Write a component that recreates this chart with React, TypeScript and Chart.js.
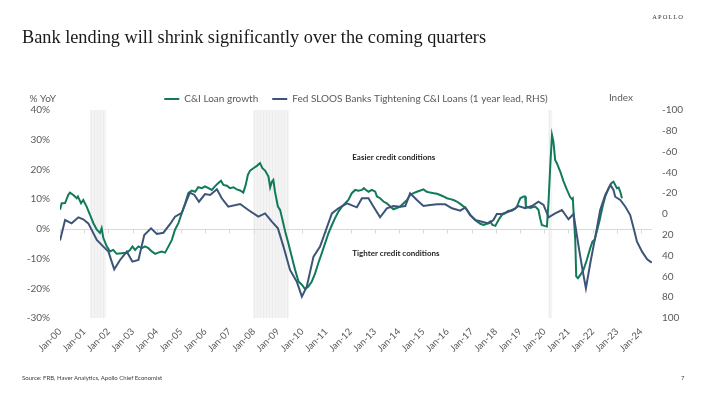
import React, { useEffect, useRef } from 'react';
import { Chart, registerables } from 'chart.js';

Chart.register(...registerables);

const titleText = 'Bank lending will shrink significantly over the coming quarters';
const brandText = 'APOLLO';
const sourceText = 'Source: FRB, Haver Analytics, Apollo Chief Economist';
const pageNumber = '7';

const seriesLabels = ['C&I Loan growth', 'Fed SLOOS Banks Tightening C&I Loans (1 year lead, RHS)'];
const seriesColors = ['#117a5b', '#3d5479'];

const leftAxisTitle = '% YoY';
const rightAxisTitle = 'Index';

const xTickYears = [2000, 2001, 2002, 2003, 2004, 2005, 2006, 2007, 2008, 2009, 2010, 2011, 2012, 2013, 2014, 2015, 2016, 2017, 2018, 2019, 2020, 2021, 2022, 2023, 2024];
const xTickLabels = ['Jan-00', 'Jan-01', 'Jan-02', 'Jan-03', 'Jan-04', 'Jan-05', 'Jan-06', 'Jan-07', 'Jan-08', 'Jan-09', 'Jan-10', 'Jan-11', 'Jan-12', 'Jan-13', 'Jan-14', 'Jan-15', 'Jan-16', 'Jan-17', 'Jan-18', 'Jan-19', 'Jan-20', 'Jan-21', 'Jan-22', 'Jan-23', 'Jan-24'];

// C&I loan growth, % YoY (left axis), dates as decimal years
const loanDates = [
  2000.00, 2000.07, 2000.21, 2000.34, 2000.41, 2000.55, 2000.69, 2000.74, 2000.87, 2000.96,
  2001.10, 2001.24, 2001.38, 2001.52, 2001.65, 2001.72, 2001.79, 2001.93, 2002.07, 2002.20,
  2002.34, 2002.55, 2002.76, 2002.89, 2002.99, 2003.10, 2003.24, 2003.38, 2003.51, 2003.65,
  2003.79, 2003.93, 2004.06, 2004.20, 2004.34, 2004.48, 2004.62, 2004.75, 2004.89, 2005.03,
  2005.17, 2005.30, 2005.44, 2005.58, 2005.71, 2005.86, 2005.99, 2006.13, 2006.27, 2006.40,
  2006.54, 2006.65, 2006.75, 2006.89, 2007.02, 2007.16, 2007.30, 2007.44, 2007.57, 2007.67,
  2007.76, 2007.85, 2007.99, 2008.13, 2008.26, 2008.36, 2008.47, 2008.61, 2008.68, 2008.75,
  2008.81, 2008.88, 2009.00, 2009.09, 2009.19, 2009.30, 2009.43, 2009.57, 2009.71, 2009.85,
  2009.99, 2010.12, 2010.26, 2010.40, 2010.54, 2010.67, 2010.81, 2010.95, 2011.09, 2011.23,
  2011.36, 2011.50, 2011.64, 2011.78, 2011.91, 2012.05, 2012.19, 2012.33, 2012.47, 2012.55,
  2012.60, 2012.74, 2012.88, 2013.02, 2013.09, 2013.22, 2013.36, 2013.50, 2013.64, 2013.77,
  2013.91, 2014.05, 2014.19, 2014.33, 2014.46, 2014.60, 2014.74, 2014.88, 2015.01, 2015.15,
  2015.29, 2015.43, 2015.57, 2015.70, 2015.84, 2015.98, 2016.12, 2016.25, 2016.39, 2016.53,
  2016.67, 2016.81, 2016.94, 2017.08, 2017.22, 2017.36, 2017.49, 2017.63, 2017.77, 2017.86,
  2017.98, 2018.11, 2018.25, 2018.39, 2018.52, 2018.66, 2018.80, 2018.87, 2019.01, 2019.15,
  2019.21, 2019.24, 2019.42, 2019.63, 2019.76, 2019.83, 2019.90, 2020.01, 2020.11, 2020.18,
  2020.25, 2020.32, 2020.38, 2020.45, 2020.52, 2020.66, 2020.80, 2020.94, 2021.07, 2021.14,
  2021.18, 2021.22, 2021.28, 2021.32, 2021.39, 2021.49, 2021.62, 2021.76, 2021.90, 2021.99,
  2022.08, 2022.17, 2022.29, 2022.41, 2022.52, 2022.66, 2022.77, 2022.86, 2022.93, 2023.00,
  2023.07, 2023.14, 2023.21,
];
const loanGrowth = [
  6.4, 8.6, 8.7, 11.4, 12.2, 11.4, 10.3, 10.9, 8.6, 9.7,
  7.5, 4.7, 1.9, -0.3, -1.4, 0.2, -3.1, -5.9, -7.6, -7.1,
  -8.4, -8.2, -8.0, -7.1, -5.9, -7.1, -5.9, -6.5, -5.9, -6.5,
  -7.6, -8.4, -8.0, -7.6, -8.0, -5.9, -3.7, -0.3, 1.9, 5.3,
  8.6, 12.0, 12.9, 12.5, 14.0, 13.7, 14.3, 13.7, 13.1, 14.3,
  15.4, 16.2, 14.8, 14.5, 13.7, 14.0, 13.3, 12.9, 12.2, 14.8,
  18.2, 19.6, 20.4, 21.2, 22.1, 20.4, 19.6, 17.6, 14.0, 15.9,
  16.5, 12.5, 7.5, 6.4, 3.0, -0.9, -4.8, -9.3, -13.8, -17.7,
  -18.8, -20.3, -19.4, -17.7, -14.9, -11.5, -8.2, -4.8, -1.4, 1.3,
  3.6, 5.8, 7.5, 8.6, 9.7, 12.0, 13.1, 12.8, 13.1, 13.7,
  13.3, 12.5, 13.1, 12.5, 10.9, 10.3, 9.2, 8.6, 7.5, 6.6,
  7.0, 7.5, 8.6, 9.7, 11.4, 12.0, 12.5, 12.9, 13.3, 12.5,
  12.2, 12.0, 11.8, 11.4, 10.9, 10.3, 10.0, 9.7, 9.2, 8.4,
  7.5, 6.4, 4.7, 3.6, 2.5, 1.7, 1.3, 1.7, 2.5, 1.3,
  1.0, 3.0, 4.7, 5.3, 6.1, 6.1, 6.8, 7.5, 10.3, 10.9,
  10.9, 7.5, 7.0, 7.5, 6.4, 3.6, 1.3, 1.0, 0.8, 9.7,
  21.5, 31.6, 29.3, 23.2, 22.1, 19.3, 15.9, 13.1, 10.7, 10.0,
  10.3, 4.1, -3.7, -16.0, -16.6, -15.5, -13.8, -10.4, -6.5, -4.3,
  -3.7, -0.9, 3.0, 7.5, 10.9, 13.7, 15.4, 15.9, 14.8, 13.7,
  13.9, 12.5, 10.3,
];

// Fed SLOOS net % of banks tightening C&I loans, 1 year lead (right axis, inverted)
const sloosDates = [
  2000.00, 2000.21, 2000.48, 2000.76, 2000.96, 2001.17, 2001.52, 2001.79, 2002.00, 2002.24,
  2002.48, 2002.76, 2002.99, 2003.24, 2003.48, 2003.76, 2004.00, 2004.27, 2004.55, 2004.75,
  2005.03, 2005.24, 2005.37, 2005.55, 2005.74, 2005.99, 2006.20, 2006.48, 2006.68, 2006.95,
  2007.44, 2007.78, 2008.19, 2008.47, 2008.75, 2009.00, 2009.23, 2009.50, 2009.78, 2009.99,
  2010.19, 2010.47, 2010.74, 2011.23, 2011.50, 2011.85, 2012.26, 2012.47, 2012.74, 2012.95,
  2013.22, 2013.50, 2013.77, 2014.05, 2014.26, 2014.46, 2014.74, 2015.01, 2015.29, 2015.57,
  2015.91, 2016.19, 2016.53, 2016.74, 2016.94, 2017.15, 2017.43, 2017.70, 2017.90, 2018.04,
  2018.25, 2018.52, 2018.80, 2018.94, 2019.21, 2019.49, 2019.76, 2019.97, 2020.18, 2020.45,
  2020.73, 2021.00, 2021.21, 2021.42, 2021.58, 2021.72, 2021.90, 2022.11, 2022.31, 2022.52,
  2022.73, 2022.86, 2022.93, 2023.14, 2023.35, 2023.55, 2023.71, 2023.83, 2024.04, 2024.25,
  2024.44,
];
const sloosValues = [
  25.6, 5.8, 9.0, 3.2, 5.1, 9.0, 25.0, 31.4, 36.2, 53.2,
  44.2, 36.2, 45.8, 44.2, 20.2, 13.8, 19.2, 18.0, 9.6, 2.6,
  -1.2, -13.5, -20.5, -18.3, -11.8, -19.2, -18.3, -23.8, -15.1, -7.0,
  -9.6, -3.8, 2.6, -0.6, 7.4, 13.8, 31.4, 53.8, 65.1, 79.5,
  69.9, 41.0, 31.4, -0.6, -5.5, -10.3, -6.4, -15.1, -15.1, -7.0,
  3.2, -5.5, -7.7, -7.0, -7.7, -19.9, -13.5, -7.7, -8.7, -9.3,
  -9.3, -5.5, -3.2, -6.4, 1.0, 5.8, 7.4, 9.0, 5.8, 0.0,
  0.0, -2.2, -5.5, -7.7, -5.5, -7.7, -11.8, -8.7, 3.2, -0.6,
  -3.8, 5.1, 0.0, 31.4, 53.8, 71.5, 47.4, 21.8, -3.8, -18.3,
  -27.9, -23.1, -16.6, -13.5, -7.0, 1.0, 15.4, 26.6, 36.2, 43.6,
  46.8,
];

// Shaded recession periods (decimal years)
const recessionStarts = [2001.24, 2007.98, 2020.17];
const recessionEnds = [2001.9, 2009.46, 2020.33];

// In-chart annotations (x in years, y on the left axis)
const annotationLabels = ['Easier credit conditions', 'Tighter credit conditions'];
const annotationX = [2012.07, 2012.07];
const annotationY = [24.2, -8.1];

const FONT = 'Lato, "Open Sans", sans-serif';
const GREY = '#595959';

const decorPlugin = {
  id: 'decor',
  afterLayout(chart: any) {
    if (chart.legend) {
      chart.legend.top += 4;
      chart.legend.bottom += 4;
    }
  },
  beforeDatasetsDraw(chart: any) {
    const { ctx, chartArea, scales } = chart;
    const xs = scales.x;
    const ys = scales.y;
    ctx.save();
    recessionStarts.forEach((s, i) => {
      const x0 = xs.getPixelForValue(s);
      const x1 = xs.getPixelForValue(recessionEnds[i]);
      ctx.fillStyle = '#f4f4f4';
      ctx.fillRect(x0, chartArea.top, x1 - x0, chartArea.bottom - chartArea.top);
      ctx.strokeStyle = '#ececec';
      ctx.lineWidth = 1;
      for (let px = Math.round(x0) + 1.5; px < x1 - 0.5; px += 3) {
        ctx.beginPath();
        ctx.moveTo(px, chartArea.top);
        ctx.lineTo(px, chartArea.bottom);
        ctx.stroke();
      }
    });
    const y0 = Math.round(ys.getPixelForValue(0)) + 0.5;
    ctx.strokeStyle = '#d9d9d9';
    ctx.lineWidth = 1;
    ctx.beginPath();
    ctx.moveTo(chartArea.left, y0);
    ctx.lineTo(chartArea.right, y0);
    ctx.stroke();
    xTickYears.forEach((v) => {
      const px = Math.round(xs.getPixelForValue(v)) + 0.5;
      ctx.beginPath();
      ctx.moveTo(px, y0);
      ctx.lineTo(px, y0 + 4);
      ctx.stroke();
    });
    ctx.restore();
  },
  afterDraw(chart: any) {
    const { ctx, chartArea, scales } = chart;
    const xs = scales.x;
    const ys = scales.y;
    ctx.save();
    ctx.fillStyle = '#262626';
    ctx.font = `bold 8px ${FONT}`;
    ctx.textAlign = 'left';
    ctx.textBaseline = 'middle';
    annotationLabels.forEach((t, i) => {
      ctx.fillText(t, xs.getPixelForValue(annotationX[i]), ys.getPixelForValue(annotationY[i]));
    });
    ctx.fillStyle = GREY;
    ctx.font = `10px ${FONT}`;
    ctx.textAlign = 'right';
    ctx.fillText(leftAxisTitle, chartArea.left - 4, chartArea.top - 11);
    ctx.fillText(rightAxisTitle, chartArea.right - 19, chartArea.top - 12);
    ctx.restore();
  },
};

export default function App() {
  const canvasRef = useRef<HTMLCanvasElement | null>(null);

  useEffect(() => {
    if (!canvasRef.current) return;
    const loanData = loanDates.map((d, i) => ({ x: d, y: loanGrowth[i] }));
    const sloosData = sloosDates.map((d, i) => ({ x: d, y: sloosValues[i] }));
    const chart = new Chart(canvasRef.current, {
      type: 'line',
      data: {
        datasets: [
          {
            label: seriesLabels[0],
            data: loanData,
            borderColor: seriesColors[0],
            backgroundColor: seriesColors[0],
            borderWidth: 2,
            pointRadius: 0,
            tension: 0,
            yAxisID: 'y',
            order: 1,
          },
          {
            label: seriesLabels[1],
            data: sloosData,
            borderColor: seriesColors[1],
            backgroundColor: seriesColors[1],
            borderWidth: 2,
            pointRadius: 0,
            tension: 0,
            yAxisID: 'y1',
            order: 0,
          },
        ],
      },
      options: {
        animation: false,
        responsive: false,
        devicePixelRatio: 1,
        layout: { padding: { left: 8, right: 0, top: 76, bottom: 18 } },
        plugins: {
          legend: {
            display: true,
            position: 'top',
            labels: {
              usePointStyle: true,
              pointStyle: 'line',
              pointStyleWidth: 15,
              padding: 14,
              color: GREY,
              font: { family: FONT, size: 10 },
              sort: (a: any, b: any) => a.datasetIndex - b.datasetIndex,
            },
          },
          tooltip: { enabled: false },
        },
        scales: {
          x: {
            type: 'linear',
            position: 'bottom',
            min: 2000,
            max: 2024.45,
            grid: { display: false, drawTicks: false },
            border: { display: false },
            afterBuildTicks: (axis: any) => {
              axis.ticks = xTickYears.map((v) => ({ value: v }));
            },
            afterFit: (s: any) => {
              s.height = 60;
            },
            ticks: {
              autoSkip: false,
              minRotation: 45,
              maxRotation: 45,
              padding: 8,
              color: GREY,
              font: { family: FONT, size: 9.5 },
              callback: (_v: any, i: number) => xTickLabels[i] ?? '',
            },
          },
          y: {
            type: 'linear',
            position: 'left',
            min: -30,
            max: 40,
            grid: { display: false, drawTicks: false },
            border: { display: false },
            afterFit: (s: any) => {
              s.width = 52;
            },
            ticks: {
              stepSize: 10,
              padding: 10,
              color: GREY,
              font: { family: FONT, size: 10 },
              callback: (v: any) => `${v}%`,
            },
          },
          y1: {
            type: 'linear',
            position: 'right',
            min: -100,
            max: 100,
            reverse: true,
            grid: { display: false, drawTicks: false },
            border: { display: false },
            afterFit: (s: any) => {
              s.width = 52;
            },
            ticks: {
              stepSize: 20,
              padding: 10,
              color: GREY,
              font: { family: FONT, size: 10 },
            },
          },
        },
      },
      plugins: [decorPlugin],
    } as any);
    return () => chart.destroy();
  }, []);

  return (
    <div style={{ position: 'absolute', left: 0, top: 0, width: 704, height: 396, background: '#fff', overflow: 'hidden' }}>
      <canvas ref={canvasRef} width={704} height={396} style={{ position: 'absolute', left: 0, top: 0 }} />
      <div style={{ position: 'absolute', left: 22, top: 27, fontFamily: '"Liberation Serif", serif', fontSize: 18.3, lineHeight: '20px', color: '#1a1a1a', whiteSpace: 'nowrap' }}>
        {titleText}
      </div>
      <div style={{ position: 'absolute', right: 20, top: 13, fontFamily: '"Liberation Serif", serif', fontSize: 6.5, letterSpacing: 1, color: '#333', whiteSpace: 'nowrap' }}>
        {brandText}
      </div>
      <div style={{ position: 'absolute', left: 22, top: 374, fontFamily: FONT, fontSize: 6, color: '#404040', whiteSpace: 'nowrap' }}>
        {sourceText}
      </div>
      <div style={{ position: 'absolute', left: 681, top: 374, fontFamily: FONT, fontSize: 6, color: '#404040' }}>
        {pageNumber}
      </div>
    </div>
  );
}
